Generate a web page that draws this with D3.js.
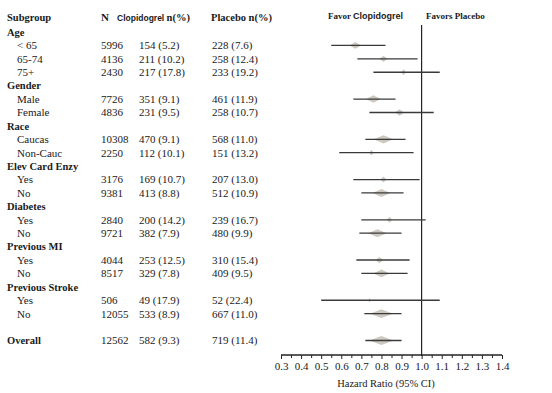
<!DOCTYPE html>
<meta charset="utf-8">
<style>
body { margin: 0; background: #fff; }
svg text { font-family: "Liberation Serif", Tinos, "Times New Roman", Times, "DejaVu Serif", serif; fill: #1a1a1a; }
.head { font-weight: bold; font-size: 10.5px; }
.cell { font-size: 11px; }
.tick text { font-size: 11px; }
.sans { font-family: "Liberation Sans", Arimo, Arial, "DejaVu Sans", sans-serif; }
</style>
<body>
<script src="https://cdnjs.cloudflare.com/ajax/libs/d3/7.8.5/d3.min.js"></script>
<script>

var labels = ["Age", "< 65", "65-74", "75+", "Gender", "Male", "Female", "Race", "Caucas", "Non-Cauc",
  "Elev Card Enzy", "Yes", "No", "Diabetes", "Yes", "No", "Previous MI", "Yes", "No",
  "Previous Stroke", "Yes", "No", "", "Overall"];
var isGroup = [1,0,0,0,1,0,0,1,0,0,1,0,0,1,0,0,1,0,0,1,0,0,0,1];
var nTotal = ["", "5996", "4136", "2430", "", "7726", "4836", "", "10308", "2250", "", "3176", "9381",
  "", "2840", "9721", "", "4044", "8517", "", "506", "12055", "", "12562"];
var clopi = ["", "154 (5.2)", "211 (10.2)", "217 (17.8)", "", "351 (9.1)", "231 (9.5)", "", "470 (9.1)",
  "112 (10.1)", "", "169 (10.7)", "413 (8.8)", "", "200 (14.2)", "382 (7.9)", "", "253 (12.5)",
  "329 (7.8)", "", "49 (17.9)", "533 (8.9)", "", "582 (9.3)"];
var placebo = ["", "228 (7.6)", "258 (12.4)", "233 (19.2)", "", "461 (11.9)", "258 (10.7)", "", "568 (11.0)",
  "151 (13.2)", "", "207 (13.0)", "512 (10.9)", "", "239 (16.7)", "480 (9.9)", "", "310 (15.4)",
  "409 (9.5)", "", "52 (22.4)", "667 (11.0)", "", "719 (11.4)"];
var hr = [null, 0.67, 0.81, 0.91, null, 0.76, 0.89, null, 0.81, 0.75, null, 0.81, 0.80, null, 0.84, 0.78,
  null, 0.79, 0.80, null, 0.74, 0.80, null, 0.80];
var lower = [null, 0.55, 0.68, 0.76, null, 0.66, 0.74, null, 0.72, 0.59, null, 0.66, 0.70, null, 0.70, 0.69,
  null, 0.675, 0.70, null, 0.50, 0.715, null, 0.72];
var upper = [null, 0.82, 0.98, 1.09, null, 0.87, 1.06, null, 0.92, 0.96, null, 0.99, 0.91, null, 1.02, 0.90,
  null, 0.94, 0.93, null, 1.09, 0.90, null, 0.90];
var majorTicks = [0.3, 0.4, 0.5, 0.6, 0.7, 0.8, 0.9, 1.0, 1.1, 1.2, 1.3, 1.4];

var width = 552, height = 393;

var svg = d3.select("body").append("svg")
    .attr("width", width)
    .attr("height", height);

var x = d3.scaleLinear().domain([0.3, 1.4]).range([281, 502]);
var y = d3.scalePoint().domain(d3.range(labels.length)).range([32, 340.5]);
var boxW = d3.scaleLinear().domain([0, 12562]).range([0, 24]);
var boxH = d3.scaleLinear().domain([0, 12562]).range([5, 9]);

// column headers
var header = svg.append("g").attr("class", "head");
header.append("text").attr("x", 7).attr("y", 17).attr("dy", "0.35em").text("Subgroup");
header.append("text").attr("x", 101).attr("y", 17).attr("dy", "0.35em").style("font-size", "11px").text("N");
var ch = header.append("text").attr("x", 117).attr("y", 17).attr("dy", "0.35em");
ch.append("tspan").attr("class", "sans").style("font-size", "8.5px").text("Clopidogrel ");
ch.append("tspan").text("n(%)");
header.append("text").attr("x", 211).attr("y", 17).attr("dy", "0.35em").text("Placebo n(%)");
var fav = header.append("text").attr("x", 328).attr("y", 16).attr("dy", "0.35em").style("font-size", "9px");
fav.append("tspan").text("Favor  ");
fav.append("tspan").attr("class", "sans").text("Clopidogrel");
header.append("text").attr("x", 426).attr("y", 16).attr("dy", "0.35em").style("font-size", "9px")
  .text("Favors Placebo");

// table rows
var rows = svg.selectAll("g.row")
    .data(d3.range(labels.length))
  .enter().append("g")
    .attr("class", "row")
    .attr("transform", function(i) { return "translate(0," + y(i) + ")"; });

rows.append("text")
    .attr("class", function(i) { return isGroup[i] ? "head" : "cell"; })
    .attr("x", function(i) { return isGroup[i] ? 7 : 17; })
    .attr("dy", "0.35em")
    .text(function(i) { return labels[i]; });
rows.append("text").attr("class", "cell").attr("x", 101).attr("dy", "0.35em")
    .text(function(i) { return nTotal[i]; });
rows.append("text").attr("class", "cell").attr("x", 139).attr("dy", "0.35em")
    .text(function(i) { return clopi[i]; });
rows.append("text").attr("class", "cell").attr("x", 212).attr("dy", "0.35em")
    .text(function(i) { return placebo[i]; });

// reference line at HR = 1
svg.append("line")
    .attr("x1", x(1)).attr("x2", x(1))
    .attr("y1", 25).attr("y2", 356)
    .attr("stroke", "#111").attr("stroke-width", 1.1);

var est = d3.range(labels.length).filter(function(i) { return hr[i] != null; });

// diamonds first, CI lines drawn over them
svg.selectAll("path.diamond")
    .data(est)
  .enter().append("path")
    .attr("class", "diamond")
    .attr("fill", "#cdc9c1")
    .attr("d", function(i) {
      var cx = x(hr[i]), cy = y(i);
      var w = Math.max(2, boxW(+nTotal[i])) / 2, h = boxH(+nTotal[i]) / 2;
      return "M" + (cx - w) + "," + cy + "L" + cx + "," + (cy - h) + "L" + (cx + w) + "," + cy +
        "L" + cx + "," + (cy + h) + "Z";
    });

svg.selectAll("line.ci")
    .data(est)
  .enter().append("line")
    .attr("class", "ci")
    .attr("x1", function(i) { return x(lower[i]); })
    .attr("x2", function(i) { return x(upper[i]); })
    .attr("y1", function(i) { return y(i); })
    .attr("y2", function(i) { return y(i); })
    .attr("stroke", "#3a3a3a")
    .attr("stroke-width", 1.3);

// x axis with minor ticks
var axisG = svg.append("g").attr("transform", "translate(0,355)");
axisG.call(d3.axisBottom(x).tickValues(majorTicks).tickSize(4).tickPadding(3)
    .tickFormat(d3.format(".1f")));
axisG.append("g").call(d3.axisBottom(x)
    .tickValues(d3.range(0.35, 1.4, 0.1)).tickSize(3).tickFormat(""));
axisG.attr("font-family", null);
axisG.selectAll("path.domain").attr("stroke", "#222").attr("d", "M" + x(0.3) + ",0H" + x(1.4));
axisG.selectAll(".tick line").attr("stroke", "#222");
axisG.selectAll(".tick text").attr("fill", "#1a1a1a");

svg.append("text")
    .attr("x", 386).attr("y", 383)
    .attr("dy", "0.35em")
    .attr("text-anchor", "middle")
    .style("font-size", "10.5px")
    .text("Hazard Ratio (95% CI)");

</script>
</body>
